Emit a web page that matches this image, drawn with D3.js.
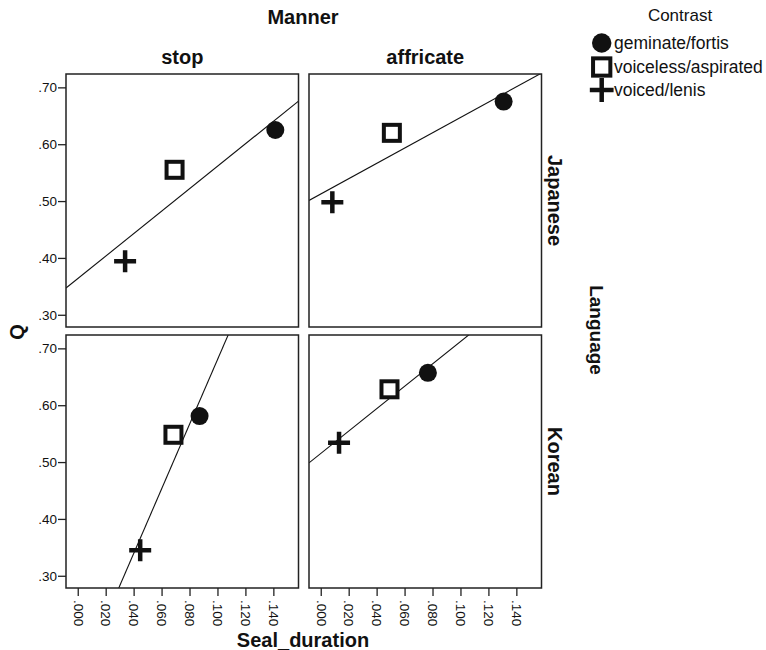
<!DOCTYPE html>
<html>
<head>
<meta charset="utf-8">
<script src="https://cdn.jsdelivr.net/npm/d3@7"></script>
<style>
  body { margin: 0; background: #fff; }
  svg { font-family: "Liberation Sans", Arial, sans-serif; }
</style>
</head>
<body>
<svg id="chart" width="766" height="650"></svg>
<script>
'use strict';

// facets and categories
const languages = ["Japanese", "Korean"];
const manners = ["stop", "affricate"];
const contrasts = ["geminate/fortis", "voiceless/aspirated", "voiced/lenis"];

// values per panel, in contrast order (geminate, voiceless, voiced)
const sealJapaneseStop = [0.1414, 0.0693, 0.0339];
const qJapaneseStop = [0.625, 0.555, 0.394];
const sealJapaneseAffricate = [0.1309, 0.0509, 0.0083];
const qJapaneseAffricate = [0.675, 0.620, 0.498];
const sealKoreanStop = [0.0872, 0.0685, 0.0447];
const qKoreanStop = [0.581, 0.548, 0.345];
const sealKoreanAffricate = [0.0767, 0.0492, 0.0131];
const qKoreanAffricate = [0.657, 0.628, 0.534];

const yTicks = [0.30, 0.40, 0.50, 0.60, 0.70];
const xTicks = [0, 0.02, 0.04, 0.06, 0.08, 0.10, 0.12, 0.14];

const panels = [
  { lang: 0, man: 0, xs: sealJapaneseStop, ys: qJapaneseStop },
  { lang: 0, man: 1, xs: sealJapaneseAffricate, ys: qJapaneseAffricate },
  { lang: 1, man: 0, xs: sealKoreanStop, ys: qKoreanStop },
  { lang: 1, man: 1, xs: sealKoreanAffricate, ys: qKoreanAffricate }
];

const colX = [66, 309];
const rowY = [74, 335];
const panelW = 232.5;
const panelH = 253;
const INK = "#111";

const svg = d3.select("#chart");

const x = d3.scaleLinear().domain([-0.0084, 0.158]).range([0, panelW]);
const y = d3.scaleLinear().domain([0.2785, 0.7235]).range([panelH, 0]);
const noZero = f => d => d3.format(f)(d).replace(/^0/, "");

function marker(g, kind, cx, cy, s = 1) {
  if (kind === 0) {
    g.append("circle").attr("cx", cx).attr("cy", cy).attr("r", 9 * s).attr("fill", INK);
  } else if (kind === 1) {
    const h = 8 * s;
    g.append("rect").attr("x", cx - h).attr("y", cy - h).attr("width", 2 * h).attr("height", 2 * h)
      .attr("fill", "#fff").attr("stroke", INK).attr("stroke-width", 4);
  } else {
    const h = 11 * s;
    g.append("path").attr("d", `M${cx - h},${cy}H${cx + h}M${cx},${cy - h}V${cy + h}`)
      .attr("stroke", INK).attr("stroke-width", 4.5).attr("fill", "none");
  }
}

panels.forEach((p, i) => {
  const g = svg.append("g").attr("transform", `translate(${colX[p.man]},${rowY[p.lang]})`);

  svg.append("clipPath").attr("id", "clip" + i)
    .append("rect").attr("width", panelW).attr("height", panelH);

  // least squares fit line
  const mx = d3.mean(p.xs), my = d3.mean(p.ys);
  const sxy = d3.sum(p.xs, (v, k) => (v - mx) * (p.ys[k] - my));
  const sxx = d3.sum(p.xs, v => (v - mx) * (v - mx));
  const slope = sxy / sxx, icpt = my - slope * mx;
  const [x0, x1] = x.domain();
  g.append("line")
    .attr("clip-path", `url(#clip${i})`)
    .attr("x1", x(x0)).attr("y1", y(icpt + slope * x0))
    .attr("x2", x(x1)).attr("y2", y(icpt + slope * x1))
    .attr("stroke", INK).attr("stroke-width", 1.1);

  p.xs.forEach((v, k) => marker(g, k, x(v), y(p.ys[k])));

  g.append("rect").attr("width", panelW).attr("height", panelH)
    .attr("fill", "none").attr("stroke", "#222").attr("stroke-width", 1.5);

  if (p.man === 0) {
    const ay = g.append("g")
      .call(d3.axisLeft(y).tickValues(yTicks).tickSize(8).tickPadding(1).tickFormat(noZero(".2f")));
    ay.select(".domain").remove();
    ay.selectAll("line").attr("stroke", "#222").attr("stroke-width", 1.3);
    ay.selectAll("text").attr("font-size", 13.5).attr("fill", INK);
  }
  if (p.lang === 1) {
    const ax = g.append("g").attr("transform", `translate(0,${panelH})`)
      .call(d3.axisBottom(x).tickValues(xTicks).tickSize(8).tickFormat(noZero(".3f")));
    ax.select(".domain").remove();
    ax.selectAll("line").attr("stroke", "#222").attr("stroke-width", 1.3);
    ax.selectAll("text")
      .attr("font-size", 13.5).attr("fill", INK)
      .attr("transform", "rotate(90)")
      .attr("x", 12).attr("y", 0).attr("dy", "0.35em")
      .style("text-anchor", "start");
  }
});

// facet titles
svg.append("text").attr("x", 303).attr("y", 24).attr("text-anchor", "middle")
  .attr("font-size", 20).attr("font-weight", "bold").attr("fill", INK).text("Manner");
manners.forEach((m, i) => {
  svg.append("text").attr("x", colX[i] + panelW / 2).attr("y", 64).attr("text-anchor", "middle")
    .attr("font-size", 20).attr("font-weight", "bold").attr("fill", INK).text(m);
});
languages.forEach((l, i) => {
  svg.append("text")
    .attr("transform", `translate(555,${rowY[i] + panelH / 2}) rotate(90)`)
    .attr("text-anchor", "middle").attr("dy", "0.35em")
    .attr("font-size", 20).attr("font-weight", "bold").attr("fill", INK).text(l);
});
svg.append("text")
  .attr("transform", "translate(597,330) rotate(90)")
  .attr("text-anchor", "middle").attr("dy", "0.35em")
  .attr("font-size", 19).attr("font-weight", "bold").attr("fill", INK).text("Language");

// axis titles
svg.append("text")
  .attr("transform", "translate(17,332) rotate(-90)")
  .attr("text-anchor", "middle").attr("dy", "0.35em")
  .attr("font-size", 20).attr("font-weight", "bold").attr("fill", INK).text("Q");
svg.append("text").attr("x", 303).attr("y", 647).attr("text-anchor", "middle")
  .attr("font-size", 20).attr("font-weight", "bold").attr("fill", INK).text("Seal_duration");

// legend
svg.append("text").attr("x", 680).attr("y", 21).attr("text-anchor", "middle")
  .attr("font-size", 17).attr("fill", INK).text("Contrast");
const legendY = [43, 67, 90];
const lg = svg.append("g");
contrasts.forEach((c, k) => {
  marker(lg, k, 601.7, legendY[k], 1.08);
  lg.append("text").attr("x", 614).attr("y", legendY[k]).attr("dy", "0.35em")
    .attr("font-size", 17.5).attr("fill", INK).text(c);
});
</script>
</body>
</html>
